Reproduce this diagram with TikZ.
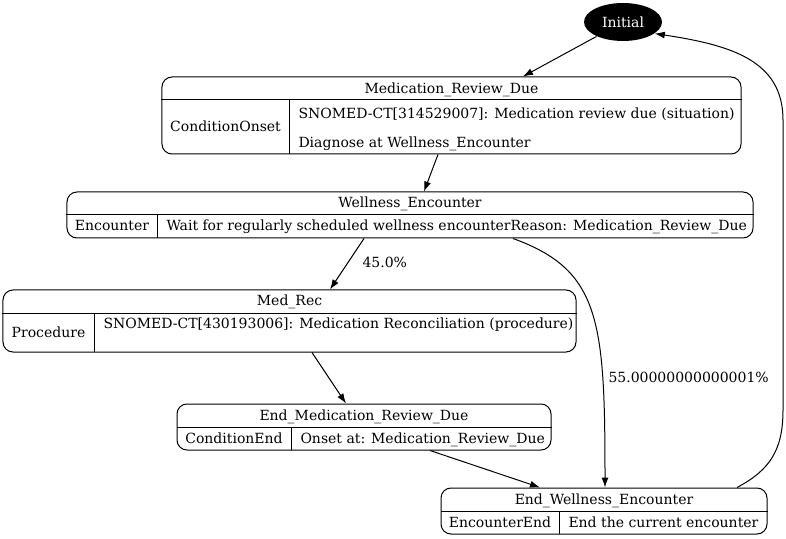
\documentclass[tikz,border=0pt]{standalone}
\usepackage{fontspec}
\setmainfont{DejaVu Serif}
\usetikzlibrary{arrows.meta,shapes.geometric}
\tikzset{>={Latex[length=10bp,width=7bp]}}
\tikzset{
  state/.style = {draw, rounded corners=10bp, inner sep=0pt},
  txt/.style = {anchor=base, inner sep=0pt, font=\fontsize{14bp}{16bp}\selectfont},
  cell/.style = {txt, anchor=base west}
}

\begin{document}
\begin{tikzpicture}[x=1bp,y=-1bp,line width=1bp]
  \useasboundingbox (0,0) rectangle (786,539);
  % states
  \node[ellipse, fill, minimum width=78bp, minimum height=38bp, inner sep=0pt,
        text=white, font=\fontsize{14bp}{16bp}\selectfont] (init) at (623,22) {Initial};
  \node[state, minimum width=579bp, minimum height=77bp] (mrd) at (451.5,115.5) {};
  \node[state, minimum width=686bp, minimum height=46bp] (we) at (410,215) {};
  \node[state, minimum width=573bp, minimum height=62bp] (mr) at (289.5,321) {};
  \node[state, minimum width=374bp, minimum height=46bp] (emrd) at (364,427) {};
  \node[state, minimum width=326bp, minimum height=46bp] (ewe) at (604,511) {};
  % record lines
  \draw (mrd.west |- 0,100) -- (mrd.east |- 0,100) (289,100) -- (289,154);
  \draw (we.west |- 0,215) -- (we.east |- 0,215) (157,215) -- (157,238);
  \draw (mr.west |- 0,313) -- (mr.east |- 0,313) (94,313) -- (94,352);
  \draw (emrd.west |- 0,427) -- (emrd.east |- 0,427) (291,427) -- (291,450);
  \draw (ewe.west |- 0,511) -- (ewe.east |- 0,511) (559,511) -- (559,534);
  % texts
  \node[txt] (mrd-t) at (451.5,94) {Medication\_Review\_Due};
  \node[txt] (mrd-l) at (225.5,132) {ConditionOnset};
  \node[cell] (mrd-r1) at (298,119) {SNOMED-CT[314529007]: Medication review due (situation)};
  \node[cell] (mrd-r2) at (298,148) {Diagnose at Wellness\_Encounter};
  \node[txt] (we-t) at (410,208) {Wellness\_Encounter};
  \node[txt] (we-l) at (112,231) {Encounter};
  \node[cell] (we-r) at (166,231) {Wait for regularly scheduled wellness encounterReason: Medication\_Review\_Due};
  \node[txt] (mr-t) at (289.5,306) {Med\_Rec};
  \node[txt] (mr-l) at (48.5,337) {Procedure};
  \node[cell] (mr-r) at (103,328) {SNOMED-CT[430193006]: Medication Reconciliation (procedure)};
  \node[txt] (emrd-t) at (364,420) {End\_Medication\_Review\_Due};
  \node[txt] (emrd-l) at (234,443) {ConditionEnd};
  \node[cell] (emrd-r) at (300,443) {Onset at: Medication\_Review\_Due};
  \node[txt] (ewe-t) at (604,504) {End\_Wellness\_Encounter};
  \node[txt] (ewe-l) at (500,527) {EncounterEnd};
  \node[cell] (ewe-r) at (568,527) {End the current encounter};
  % transitions
  \draw[->] (init) -- (mrd);
  \draw[->] ([xshift=-13.5bp]mrd.south) -- ([xshift=14bp]we.north);
  \draw[->] ([xshift=-46bp]we.south) -- ([xshift=40.5bp]mr.north);
  \node[cell] (p45) at (362,268) {45.0\%};
  \draw[->] ([xshift=103bp]we.south) .. controls (600,270) and (605,320) .. ([xshift=1bp]ewe.north);
  \node[cell] (p55) at (608,382) {55.00000000000001\%};
  \draw[->] ([xshift=22.5bp]mr.south) -- ([xshift=-18bp]emrd.north);
  \draw[->] ([xshift=66bp]emrd.south) -- ([xshift=-64bp]ewe.north);
  \draw[->] ([xshift=133bp]ewe.north) .. controls (770,470) and (783,450) .. (783,410)
    -- (783,120) .. controls (783,60) and (730,45) .. (init.-20);
\end{tikzpicture}
\end{document}
